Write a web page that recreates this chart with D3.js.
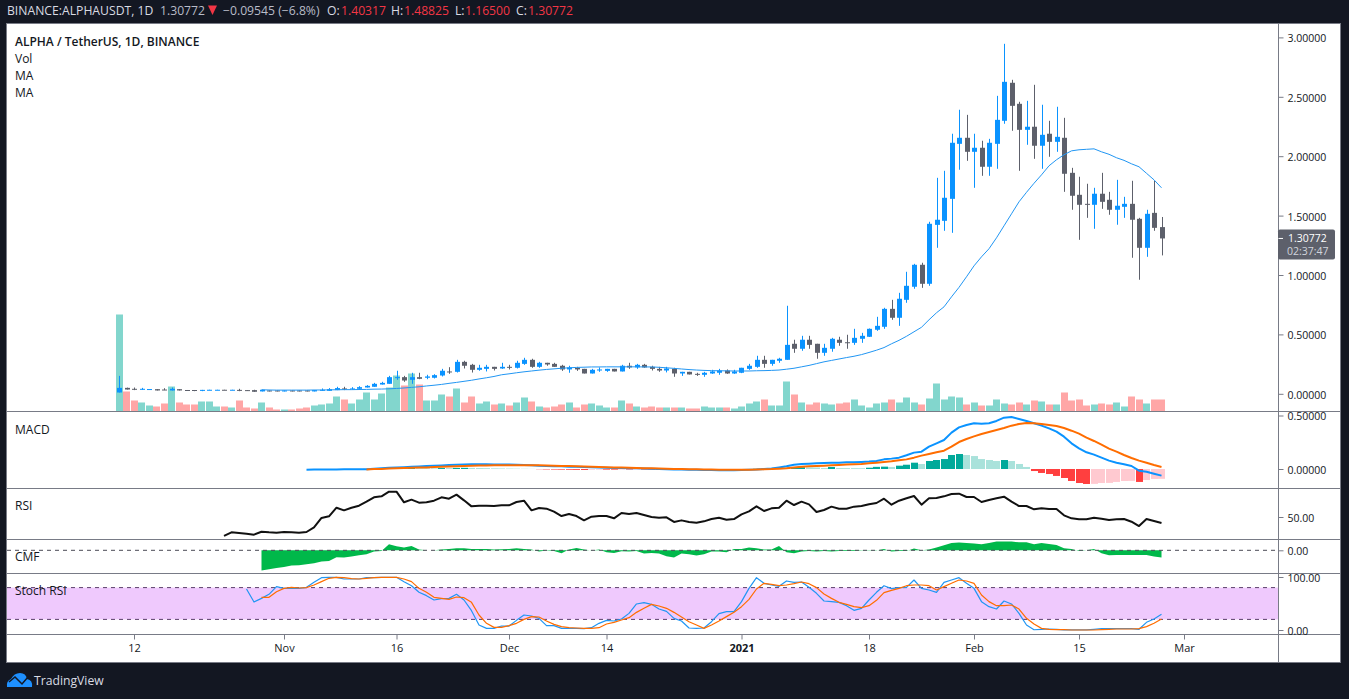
<!DOCTYPE html>
<html><head><meta charset="utf-8">
<script src="https://cdn.jsdelivr.net/npm/d3@7/dist/d3.min.js"></script>
<style>
html,body{margin:0;padding:0;background:#131722;overflow:hidden}
svg{display:block}
text{font-family:"Open Sans",sans-serif}
</style></head><body>
<svg id="c" width="1349" height="699"></svg>
<script>
const firstDay = Date.UTC(2020, 9, 10);
const opens = [
.011,.050,.042,.036,.038,.039,.036,.028,.039,.032,
.032,.030,.031,.031,.034,.031,.033,.031,.031,.020,
.028,.028,.020,.028,.028,.028,.020,.025,.025,.031,
.045,.039,.042,.053,.059,.078,.084,.135,.140,.118,
.140,.135,.135,.154,.188,.185,.269,.244,.202,.210,
.227,.213,.227,.219,.252,.286,.227,.261,.252,.236,
.205,.219,.210,.171,.196,.193,.210,.188,.236,.222,
.244,.227,.210,.196,.210,.171,.185,.168,.160,.171,
.177,.196,.171,.177,.210,.227,.286,.252,.278,.286,
.421,.379,.455,.421,.345,.379,.455,.434,.429,.463,
.480,.539,.564,.715,.640,.791,.901,1.086,.926,1.422,
1.456,1.641,2.104,2.155,2.037,2.071,1.911,2.104,2.298,2.618,
2.441,2.222,2.248,2.088,2.189,2.121,2.155,1.860,1.675,1.599,
1.591,1.684,1.633,1.549,1.574,1.599,1.473,1.229,1.523,1.40317];
const highs = [
.151,.052,.053,.050,.040,.039,.047,.053,.039,.032,
.032,.033,.034,.034,.034,.034,.042,.031,.034,.034,
.028,.028,.028,.028,.028,.028,.031,.045,.048,.059,
.059,.056,.064,.073,.092,.101,.151,.194,.151,.177,
.177,.160,.165,.210,.224,.286,.278,.252,.244,.244,
.227,.261,.244,.278,.303,.295,.269,.261,.261,.244,
.236,.227,.210,.210,.222,.210,.210,.244,.261,.252,
.252,.236,.227,.227,.219,.185,.185,.177,.185,.202,
.210,.205,.202,.219,.252,.320,.320,.286,.303,.741,
.455,.488,.488,.421,.421,.471,.480,.497,.547,.513,
.550,.648,.724,.791,.850,1.027,1.094,1.103,1.448,1.818,
1.877,2.189,2.391,2.348,2.189,2.130,2.146,2.508,2.946,2.643,
2.458,2.466,2.601,2.433,2.298,2.416,2.323,1.902,1.827,1.768,
1.734,1.860,1.700,1.801,1.658,1.793,1.481,1.549,1.793,1.48825];
const lows = [
.011,.036,.031,.034,.038,.028,.031,.028,.028,.030,
.022,.022,.031,.031,.031,.031,.022,.026,.017,.020,
.020,.020,.020,.020,.020,.020,.020,.025,.025,.031,
.031,.039,.042,.053,.059,.078,.084,.118,.101,.084,
.123,.123,.129,.146,.168,.179,.213,.179,.194,.188,
.196,.210,.205,.213,.244,.219,.219,.236,.227,.193,
.177,.193,.171,.171,.185,.185,.188,.188,.210,.210,
.219,.196,.185,.180,.143,.151,.163,.151,.143,.168,
.160,.168,.168,.174,.202,.219,.219,.236,.261,.286,
.345,.362,.379,.295,.320,.354,.404,.379,.412,.429,
.478,.530,.547,.623,.572,.766,.884,.892,.909,1.229,
1.372,1.355,1.886,1.961,1.734,1.835,1.835,1.894,2.273,2.214,
1.877,2.096,1.978,1.894,1.995,2.037,1.700,1.549,1.296,1.481,
1.389,1.557,1.507,1.423,1.481,1.145,.960,1.153,1.372,1.165];
const closes = [
.050,.036,.039,.042,.040,.028,.033,.042,.028,.030,
.030,.033,.034,.034,.031,.034,.031,.028,.017,.034,
.020,.020,.028,.020,.020,.020,.031,.034,.039,.048,
.042,.045,.056,.067,.084,.092,.140,.140,.112,.140,
.126,.146,.157,.194,.185,.269,.236,.202,.219,.227,
.210,.227,.221,.261,.286,.227,.261,.247,.227,.205,
.222,.205,.171,.202,.205,.210,.188,.236,.222,.244,
.222,.210,.196,.213,.171,.185,.163,.163,.177,.188,
.196,.171,.188,.219,.236,.286,.252,.286,.295,.412,
.379,.455,.412,.345,.387,.463,.429,.432,.471,.488,
.547,.572,.715,.640,.800,.909,1.086,.926,1.431,1.465,
1.650,2.113,2.155,2.037,2.071,1.911,2.113,2.306,2.626,2.424,
2.222,2.248,2.088,2.180,2.121,2.163,1.852,1.667,1.591,1.594,
1.684,1.616,1.549,1.583,1.599,1.465,1.229,1.515,1.397,1.30772];
const volumes = [
97,20,11,9,6,5,8,25,9,7,
7,10,10,5,5,4,11,4,3,9,
4,2,2,2,3,4,6,7,8,15,
12,8,12,19,12,18,24,36,26,38,
27,11,11,17,15,23,9,15,8,10,
7,8,6,9,14,10,5,4,5,7,
9,4,7,8,6,4,4,11,8,5,
4,5,4,4,4,4,3,3,5,4,
4,4,3,5,8,10,12,6,6,30,
17,9,7,9,8,7,8,9,12,6,
4,8,9,12,9,14,9,7,13,28,
12,15,14,7,9,6,6,12,8,7,
9,7,11,10,7,7,19,11,12,6,
7,8,7,9,5,15,12,8,12,12];
const maStart = 19;
const maValues = [
.034,.032,.031,.031,.031,.031,.031,.032,.032,.033,.034,.035,.035,.036,.037,.039,.040,.042,
.045,.049,.054,.059,.066,.072,.079,.088,.096,.105,.114,.125,.135,.146,
.160,.168,.177,.185,.192,.199,.205,.210,.215,.219,
.222,.224,.226,.226,.227,.227,.227,.227,.227,.226,
.226,.223,.219,.214,.209,.204,.200,.197,.195,.194,
.193,.192,.192,.192,.194,.195,.197,.200,
.207,.215,.227,.239,.254,.269,.281,.293,.305,.316,.330,.348,
.367,.389,.421,.450,.484,.522,.560,.623,.682,.732,
.816,.896,.985,1.077,1.153,1.221,1.313,1.414,1.515,1.616,
1.696,1.772,1.843,1.919,1.970,2.012,2.045,2.054,2.058,2.062,
2.037,2.016,1.987,1.965,1.936,1.911,1.856,1.801,1.734];
const macdStart = 25;
const macdLine = [
-.006,-.005,-.005,-.004,-.004,-.003,-.003,-.003,-.002,.002,.007,.011,.014,.017,.020,
.023,.027,.030,.033,.037,.040,.043,.044,.044,.044,.043,.042,.041,.039,.037,
.034,.030,.028,.026,.025,.022,.020,.018,.016,.014,.012,.010,.009,.007,.006,
.004,.002,.000,-.002,-.004,-.005,-.007,-.008,-.009,-.010,-.011,-.012,-.012,-.010,-.008,
-.005,.000,.005,.015,.025,.040,
.047,.050,.053,.056,.059,.059,.062,.062,.066,.069,.075,.090,.097,.106,.128,.153,.162,.209,.240,.271,
.340,.389,.411,.427,.424,.427,.449,.480,.486,.467,.449,.427,.405,.380,.349,.302,.240,.193,.156,.134,
.106,.078,.059,.044,.028,-.016,-.025,-.044,-.062];
const signalStart = 33;
const signalLine = [
-.004,-.001,.001,.004,.006,.009,.011,.013,.015,.018,.020,.023,.025,.028,.030,.032,.033,
.034,.035,.036,.036,.036,.035,.034,.032,.030,.029,.027,.025,.023,.021,.019,.017,.015,
.013,.011,.010,.008,.006,.005,.003,.001,-.001,-.002,-.003,-.004,-.005,-.006,-.006,-.007,
-.007,-.006,-.005,-.003,-.001,.003,.008,.015,
.022,.025,.028,.031,.034,.037,.041,.044,.047,.053,.059,.066,.072,.081,.090,.106,.125,.140,.156,.171,
.209,.252,.280,.305,.327,.346,.365,.383,.405,.421,.430,.427,.421,.411,.402,.383,.358,.330,.293,.262,
.227,.190,.162,.131,.103,.078,.059,.037,.019];
const histogram = [
.001,.002,.003,.004,.005,.006,.009,.008,.007,.006,.009,.008,.010,.011,.010,.009,.008,
.006,.005,.004,.003,.002,.001,-.002,-.004,-.005,-.006,-.007,-.008,-.009,-.007,-.006,-.006,-.006,
-.005,-.005,-.004,-.005,-.006,-.007,-.008,-.009,-.008,-.007,-.006,-.005,-.005,-.004,-.003,-.002,
-.001,.000,.002,.003,.004,.006,.010,.012,
.016,.015,.014,.009,.019,.009,.0085,.008,.0075,.012,.020,.022,.019,.031,.040,.059,.047,.075,.084,.093,
.131,.140,.131,.121,.093,.084,.075,.084,.075,.047,.019,-.019,-.037,-.047,-.065,-.084,-.112,-.131,-.140,-.139,
-.131,-.130,-.121,-.112,-.111,-.121,-.103,-.093,-.092];
const rsiStart = 14;
const rsiValues = [
22.9,28.1,27.1,26.2,24.8,29.0,28.1,27.6,28.6,28.1,27.6,28.6,35.2,48.6,51.0,63.3,59.5,63.3,66.2,71.9,
78.1,79.5,86.2,86.2,71.0,74.8,70.5,71.0,73.3,78.1,76.2,81.9,73.8,65.2,66.2,66.2,65.7,66.7,66.7,71.4,
73.3,59.5,62.9,61.9,57.6,51.4,54.3,51.4,45.2,50.5,51.4,51.4,48.1,55.7,54.3,55.7,52.9,50.0,49.0,49.5,
42.9,45.2,42.9,41.9,43.8,47.1,49.0,46.2,47.1,53.8,58.1,65.2,58.6,62.4,63.3,73.3,67.1,
71.9,68.1,57.1,60.0,64.8,61.9,61.9,64.8,65.7,68.1,70.0,76.2,67.6,73.3,76.7,80.0,67.6,76.7,77.1,79.5,
82.9,83.3,78.6,78.6,71.4,74.3,76.7,79.0,71.9,65.7,65.7,61.0,62.4,61.4,61.4,52.4,48.1,46.7,46.7,49.0,
47.6,45.7,46.7,47.1,43.3,37.1,47.1,44.3,41.4];
const cmfStart = 19;
const cmfValues = [
-.203,-.19,-.177,-.167,-.153,-.15,-.14,-.13,-.113,-.107,-.07,-.073,-.063,-.05,-.04,-.013,-.007,.06,.04,.027,
.043,.007,0,0,.007,.013,.02,.02,.013,.013,.013,.007,.01,.013,.02,.013,.007,-.013,-.003,-.007,
-.03,.007,.023,.007,-.003,.007,
-.02,-.027,-.01,-.013,-.007,-.033,-.027,-.033,-.06,-.073,-.033,-.04,-.053,-.04,-.013,-.013,-.02,.013,.013,.027,
.02,.007,.007,.043,-.02,-.03,-.013,-.007,-.013,-.007,-.013,-.007,-.007,-.007,-.003,-.003,-.003,.013,-.013,-.007,
-.007,.017,0,.007,.027,.05,.073,.077,.073,.067,.06,.073,.087,.087,.087,.08,.08,.06,.073,.063,
.053,.02,.013,-.007,0,.013,-.03,-.05,-.047,-.047,-.047,-.047,-.047,-.063,-.073];
const stochKStart = 17;
const stochK = [
77.4,52.8,59.7,67.3,81.8,78.6,78.6,78.6,80.5,89.9,98.7,99.4,99.4,96.2,96.2,96.2,98.7,98.7,99.4,99.4,
99.4,91.2,83.6,71.1,64.8,56.6,59.1,59.7,67.3,56.6,36.5,9.4,3.1,3.1,7.5,7.5,18.2,28.3,26.4,22,
8.2,8.2,3.1,3.1,3.1,2.5,4.4,12.6,
18.2,17,20.8,31.4,49.1,51.6,48.4,39.6,35.2,22,17,3.8,3.1,3.8,15.7,30.8,34.6,34.6,53.5,78.6,
98.7,88.1,84.9,82.4,92.5,89.9,90.6,80.5,69.2,54.7,53.5,52.2,45.9,37.1,40.9,56.6,71.1,83.6,78,79.9,
80.5,94.3,78.6,75.5,71.1,89.9,94.3,98.7,88.1,78.6,53.5,44,39.6,54.7,49.1,31.4,9.4,.5,1.3,1.9,
1.3,.3,.3,.3,.3,1.3,2.5,2.5,2.5,2.5,2.5,1.3,14.5,20.8,29.6];
const stochDStart = 19;
const stochD = [
61.6,61.6,72.3,78.6,80.5,79.2,79.9,84.9,91.2,97.5,99.4,98.7,96.9,96.2,97.5,98.7,99.4,99.4,99.4,96.2,
91.2,78.6,71.1,61.6,59.7,57.9,62.3,61,52.2,28.3,12.6,5,5,8.2,12.6,20.1,25.2,24.5,17,10.7,
6.3,4.4,3.8,3.1,3.1,4.4,
11.3,14.5,18.9,23.3,33.3,40.9,48.4,45.3,40.9,33.3,24.5,15.7,9.4,3.1,9.4,17,25.2,33.3,44,57.9,
77.4,88.1,86.2,83.6,84.9,87.4,90.6,87.4,79.9,67.9,59.7,52.2,48.4,44,42.1,45.9,56,70.4,74.8,78.6,
83.6,84.9,84.9,83.6,75.5,81.8,88.1,94.3,92.5,88.1,66,53.5,45.9,45.9,47.2,39.6,22,11.3,3.1,1.3,
.6,.6,0,0,0,0,.6,1.3,1.9,1.9,1.9,2.5,6.3,12.6,20.8];

const priceTicks = [0,0.5,1,1.5,2,2.5,3];
const macdTicks = [0,0.5];
const rsiTicks = [50];
const cmfTicks = [0];
const stochTicks = [0,100];
const stochBands = [20,80];
const timeLabels = ["12","Nov","16","Dec","14","2021","18","Feb","15","Mar"];
const timeDates = [[2020,9,12],[2020,10,1],[2020,10,16],[2020,11,1],[2020,11,14],[2021,0,1],[2021,0,18],[2021,1,1],[2021,1,15],[2021,2,1]];
const legendLines = ["Vol","MA","MA"];

const DAY = 864e5;
const svg = d3.select("#c");
const plotR = 1278, frameL = 7, frameR = 1340, frameT = 24, frameB = 662;
const date = i => new Date(firstDay + i * DAY);
const x = d3.scaleUtc().domain([date(0), date(139)]).range([119, 1161.5]);
const xi = i => x(date(i));
const priceY = d3.scaleLinear().domain([0, 3]).range([393.8, 37.4]);
const volY = d3.scaleLinear().domain([0, 100]).range([411.5, 311.5]);
const macdY = d3.scaleLinear().domain([0, .5]).range([469, 415.5]);
const rsiY = d3.scaleLinear().domain([50, 100]).range([517, 482]);
const cmfY = d3.scaleLinear().domain([0, .1]).range([550.3, 540.3]);
const stochY = d3.scaleLinear().domain([0, 100]).range([630, 577]);

const UP = "#0a93ff", DOWN = "#5d606b", GRID = "#787b86";
svg.append("rect").attr("x", frameL).attr("y", frameT).attr("width", frameR - frameL).attr("height", frameB - frameT).attr("fill", "#fff");

// volume
const isUp = i => closes[i] >= opens[i];
svg.append("g").selectAll("rect").data(volumes).join("rect")
  .attr("x", (d, i) => Math.round(xi(i) - 3.2)).attr("width", 7)
  .attr("y", d => volY(d)).attr("height", d => volY(0) - volY(d))
  .attr("fill", (d, i) => isUp(i) ? "#82d6cd" : "#ffa6a6");

// candles
const g = svg.append("g");
closes.forEach((c, i) => {
  const col = isUp(i) ? UP : DOWN;
  const cx = Math.round(xi(i));
  g.append("line").attr("x1", cx + .5).attr("x2", cx + .5)
    .attr("y1", priceY(highs[i])).attr("y2", priceY(lows[i])).attr("stroke", col).attr("stroke-width", 1);
  const t = priceY(Math.max(opens[i], c)), b = priceY(Math.min(opens[i], c));
  g.append("rect").attr("x", cx - 2).attr("width", 5).attr("y", t).attr("height", Math.max(1, b - t)).attr("fill", col);
});

// series line helper
function series(vals, start, yScale, color, width) {
  svg.append("path").datum(vals)
    .attr("d", d3.line().x((d, i) => xi(i + start)).y(d => yScale(d)))
    .attr("fill", "none").attr("stroke", color).attr("stroke-width", width).attr("stroke-linejoin", "round");
}
series(maValues, maStart, priceY, "#2196f3", 1);

// MACD histogram
const hCol = (d, i) => {
  const p = i ? histogram[i - 1] : 0;
  return d >= 0 ? (d >= p ? "#00a99a" : "#a9e2db") : (d <= p ? "#ff3f3f" : "#ffc9d0");
};
svg.append("g").selectAll("rect").data(histogram).join("rect")
  .attr("x", (d, i) => Math.round(xi(i + signalStart) - 3.2)).attr("width", 7)
  .attr("y", d => Math.min(macdY(d), macdY(0)))
  .attr("height", d => Math.abs(macdY(d) - macdY(0)))
  .attr("fill", hCol);
series(macdLine, macdStart, macdY, "#0a93ff", 2);
series(signalLine, signalStart, macdY, "#ff6d00", 2);

// RSI
series(rsiValues, rsiStart, rsiY, "#111", 2);

// CMF
svg.append("path").datum(cmfValues)
  .attr("d", d3.area().x((d, i) => xi(i + cmfStart)).y0(cmfY(0)).y1(d => cmfY(d)))
  .attr("fill", "#00b84a");
svg.append("line").attr("x1", frameL).attr("x2", plotR).attr("y1", cmfY(0)).attr("y2", cmfY(0))
  .attr("stroke", "#4a4a55").attr("stroke-dasharray", "4 4");

// Stoch RSI
svg.append("rect").attr("x", frameL).attr("width", plotR - frameL)
  .attr("y", stochY(stochBands[1])).attr("height", stochY(stochBands[0]) - stochY(stochBands[1]))
  .attr("fill", "#efc9fd");
stochBands.forEach(b => svg.append("line").attr("x1", frameL).attr("x2", plotR)
  .attr("y1", stochY(b)).attr("y2", stochY(b)).attr("stroke", "#5b3f6b").attr("stroke-dasharray", "4 4"));
series(stochK, stochKStart, stochY, "#2196f3", 1.2);
series(stochD, stochDStart, stochY, "#ff6d00", 1.2);

// pane separators and frame
[411.5, 488.5, 539.5, 573.5, 634.5].forEach(y =>
  svg.append("line").attr("x1", frameL).attr("x2", frameR).attr("y1", y).attr("y2", y).attr("stroke", GRID).attr("stroke-width", 1.2));
svg.append("line").attr("x1", plotR + .5).attr("x2", plotR + .5).attr("y1", frameT).attr("y2", frameB).attr("stroke", GRID);
svg.append("rect").attr("x", frameL - .5).attr("y", frameT - .5).attr("width", frameR - frameL + 1).attr("height", frameB - frameT + 1)
  .attr("fill", "none").attr("stroke", GRID);

// value axes
function axis(scale, ticks, fmt) {
  const a = svg.append("g").attr("transform", `translate(${plotR + .5},0)`)
    .call(d3.axisRight(scale).tickValues(ticks).tickFormat(fmt).tickSize(5).tickPadding(4));
  a.select(".domain").remove();
  a.selectAll("line").attr("stroke", GRID);
  a.selectAll("text").attr("fill", "#131722").attr("font-size", 10.5).attr("dy", ".42em").attr("font-family", '"Open Sans",sans-serif');
}
axis(priceY, priceTicks, d3.format(".5f"));
axis(macdY, macdTicks, d3.format(".5f"));
axis(rsiY, rsiTicks, d3.format(".2f"));
axis(cmfY, cmfTicks, d3.format(".2f"));
axis(stochY, stochTicks, d3.format(".2f"));

// time axis
const tDates = timeDates.map(d => new Date(Date.UTC(d[0], d[1], d[2])));
const tAxis = svg.append("g").attr("transform", "translate(0,634.5)")
  .call(d3.axisBottom(x).tickValues(tDates).tickFormat((d, i) => timeLabels[i]).tickSize(5).tickPadding(5));
tAxis.select(".domain").remove();
tAxis.selectAll("line").attr("stroke", GRID);
tAxis.selectAll("text").attr("fill", "#131722").attr("font-size", 11).attr("font-family", '"Open Sans",sans-serif')
  .attr("font-weight", (d, i) => timeLabels[i] === "2021" ? 700 : 400);

// last price tag
const tagY = priceY(closes[139]);
svg.append("rect").attr("x", plotR).attr("y", tagY - 9).attr("width", 57).attr("height", 30).attr("rx", 2).attr("fill", DOWN);
svg.append("line").attr("x1", plotR + .5).attr("x2", plotR + 5).attr("y1", tagY).attr("y2", tagY).attr("stroke", "#fff");
svg.append("text").attr("x", plotR + 10).attr("y", tagY + 4).attr("fill", "#fff").attr("font-size", 10.5).text("1.30772");
svg.append("text").attr("x", plotR + 9).attr("y", tagY + 17).attr("fill", "#d1d4dc").attr("font-size", 10.5).text("02:37:47");

// legends
const T = (s, xp, yp, o = {}) => svg.append("text").attr("x", xp).attr("y", yp).attr("fill", o.c || "#131722")
  .attr("font-size", o.s || 12).attr("font-weight", o.w || 400).text(s);
T("ALPHA / TetherUS, 1D, BINANCE", 15, 46, { w: 600 });
legendLines.forEach((s, i) => T(s, 15, 63 + i * 17));
T("MACD", 15, 434); T("RSI", 15, 510); T("CMF", 15, 561); T("Stoch RSI", 15, 595);

// header
const W = "#d9dbe3", R = "#f23645", HS = 12.2;
T("BINANCE:ALPHAUSDT, 1D", 7, 15, { c: W, s: HS });
T("1.30772", 160, 15, { c: "#b8bcc8", s: HS });
svg.append("path").attr("d", "M208,5.5H217L212.5,15Z").attr("fill", R);
T("\u22120.09545 (\u22126.8%)", 223, 15, { c: "#b8bcc8", s: HS });
[["O:", 327, "1.40317", 341], ["H:", 391, "1.48825", 404], ["L:", 455, "1.16500", 465], ["C:", 516, "1.30772", 528]].forEach(r => {
  T(r[0], r[1], 15, { c: W, s: HS });
  T(r[2], r[3], 15, { c: R, s: HS });
});

// logo
svg.append("path").attr("d", "M7,687 Q6,681 11,679 Q14,673 20,673 Q26,673 27,679 Q33,680 32,687 Z").attr("fill", "#1e90ff");
svg.append("path").attr("d", "M9,682 L15,677 L22,684 L28,677").attr("fill", "none").attr("stroke", "#131722").attr("stroke-width", 1.5);
T("TradingView", 34, 685, { c: "#d9dbe3", s: 12.2 });
</script></body></html>
